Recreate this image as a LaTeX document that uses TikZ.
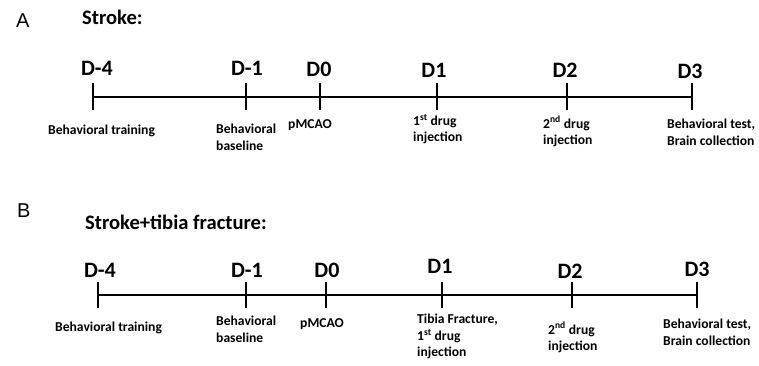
\documentclass[tikz,border=0pt]{standalone}
\usepackage{fontspec}
\setmainfont{Carlito}
\newfontfamily\panelfont{Liberation Sans}
\begin{document}
\begin{tikzpicture}[x=1pt,y=-1pt,
  axis/.style={line width=2.3pt, draw=black},
  tickmark/.style={line width=2.5pt, draw=black},
  day/.style={font=\fontsize{22}{26}\selectfont\bfseries, anchor=base, inner sep=0pt},
  note/.style={font=\fontsize{13.6}{16.5}\selectfont\bfseries, anchor=north west, align=left, inner sep=0pt},
  title/.style={font=\fontsize{20.6}{24}\selectfont\bfseries, anchor=base west, inner sep=0pt},
  panel/.style={font=\fontsize{20}{24}\selectfont\panelfont, anchor=base west, inner sep=0pt}]
\useasboundingbox (0,0) rectangle (759,366);

% ---------- Panel A ----------
\node[panel] (pA) at (16,28) {A};
\node[title] (tA) at (82,25) {Stroke:};
\foreach \n/\x in {1/93,2/246,3/320,4/437,5/567,6/692}{
  \coordinate (a\n) at (\x,97);
  \draw[tickmark] ([yshift=14pt]a\n) -- ([yshift=-13pt]a\n);
}
\draw[axis] (a1) -- (a6);
\node[day] (da1) at (97,76) {D-4};
\node[day] (da2) at (247,76) {D-1};
\node[day] (da3) at (319,77) {D0};
\node[day] (da4) at (434,78) {D1};
\node[day] (da5) at (565,78) {D2};
\node[day] (da6) at (690,79) {D3};
\node[note] (na1) at (48,125) {Behavioral training};
\node[note] (na2) at (216,124) {Behavioral\\baseline};
\node[note] (na3) at (288,119) {pMCAO};
\node[note] (na4) at (413,114) {1\textsuperscript{st} drug\\injection};
\node[note] (na5) at (543,116) {2\textsuperscript{nd} drug\\injection};
\node[note] (na6) at (667,119) {Behavioral test,\\Brain collection};

% ---------- Panel B ----------
\node[panel] (pB) at (17,217) {B};
\node[title] (tB) at (85,229) {Stroke+tibia fracture:};
\foreach \n/\x in {1/98,2/246,3/326,4/442,5/572,6/697}{
  \coordinate (b\n) at (\x,295);
  \draw[tickmark] ([yshift=13pt]b\n) -- ([yshift=-13pt]b\n);
}
\draw[axis] (b1) -- (b6);
\node[day] (db1) at (100,277) {D-4};
\node[day] (db2) at (247,277) {D-1};
\node[day] (db3) at (327,277) {D0};
\node[day] (db4) at (440,273) {D1};
\node[day] (db5) at (570,278) {D2};
\node[day] (db6) at (697,276) {D3};
\node[note] (nb1) at (55,322) {Behavioral training};
\node[note] (nb2) at (216,316) {Behavioral\\baseline};
\node[note] (nb3) at (300,318) {pMCAO};
\node[note] (nb4) at (417,314) {Tibia Fracture,\\1\textsuperscript{st} drug\\injection};
\node[note] (nb5) at (548,322) {2\textsuperscript{nd} drug\\injection};
\node[note] (nb6) at (663,319) {Behavioral test,\\Brain collection};
\end{tikzpicture}
\end{document}
